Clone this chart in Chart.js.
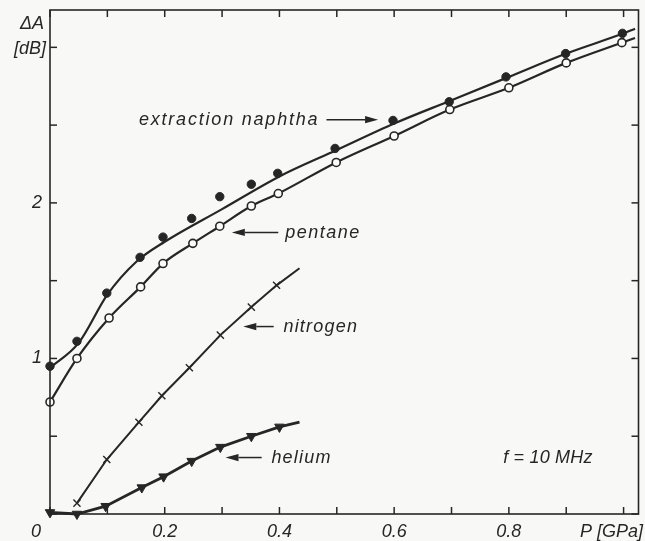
<!DOCTYPE html>
<html>
<head>
<meta charset="utf-8">
<script src="https://cdn.jsdelivr.net/npm/chart.js@4.4.1/dist/chart.umd.min.js"></script>
<style>
  html, body { margin: 0; padding: 0; background: #f8f8f6; }
  canvas { display: block; }
</style>
</head>
<body>
<canvas id="chart" width="645" height="541"></canvas>
<script>
// pressure P [GPa] vs attenuation change ΔA [dB], f = 10 MHz
const naphthaP = [0, 0.047, 0.099, 0.157, 0.197, 0.247, 0.296, 0.351, 0.397, 0.497, 0.598, 0.696, 0.795, 0.899, 0.998];
const naphthaDB = [0.95, 1.11, 1.42, 1.65, 1.78, 1.90, 2.04, 2.12, 2.19, 2.35, 2.53, 2.65, 2.81, 2.96, 3.09];

// fitted curve drawn through the naphtha points
const naphthaFitP = [0, 0.05, 0.1, 0.15, 0.2, 0.3, 0.4, 0.5, 0.6, 0.7, 0.8, 0.9, 1.0, 1.02];
const naphthaFitDB = [0.94, 1.10, 1.41, 1.62, 1.75, 1.96, 2.17, 2.34, 2.51, 2.66, 2.81, 2.96, 3.09, 3.12];

// last entry is the end of the drawn line (no marker)
const pentaneP = [0, 0.047, 0.103, 0.158, 0.197, 0.249, 0.296, 0.351, 0.398, 0.499, 0.6, 0.697, 0.8, 0.9, 0.997, 1.02];
const pentaneDB = [0.72, 1.0, 1.26, 1.46, 1.61, 1.74, 1.85, 1.98, 2.06, 2.26, 2.43, 2.60, 2.74, 2.90, 3.03, 3.06];

const nitrogenP = [0.047, 0.099, 0.155, 0.195, 0.243, 0.297, 0.351, 0.395, 0.435];
const nitrogenDB = [0.07, 0.35, 0.59, 0.76, 0.94, 1.15, 1.33, 1.47, 1.58];

const heliumP = [0, 0.047, 0.097, 0.16, 0.198, 0.247, 0.297, 0.351, 0.40, 0.435];
const heliumDB = [0.01, 0.0, 0.05, 0.17, 0.24, 0.34, 0.43, 0.50, 0.56, 0.59];

const xLabels = [0.2, 0.4, 0.6, 0.8];
const yLabels = [1, 2];

const ink = "#262626";
const labelFont = 'italic 18px "Liberation Sans"';

// annotation positions, in data units
const notes = [
  { text: "extraction naphtha", p: 0.155, db: 2.50, sp: 1.8, arrow: [0.482, 2.535, 0.572, 2.535] },
  { text: "pentane", p: 0.41, db: 1.777, sp: 1.5, arrow: [0.398, 1.81, 0.317, 1.81] },
  { text: "nitrogen", p: 0.407, db: 1.173, sp: 1.2, arrow: [0.39, 1.205, 0.337, 1.205] },
  { text: "helium", p: 0.386, db: 0.331, sp: 1.2, arrow: [0.369, 0.363, 0.306, 0.363] },
  { text: "f = 10 MHz", p: 0.79, db: 0.331, sp: 0.2 }
];

const toPoints = (xs, ys) => xs.map((x, i) => ({ x, y: ys[i] }));
const lastNoMarker = (xs, r) => xs.map((_, i) => (i === xs.length - 1 ? 0 : r));

function drawLine(ctx, x1, y1, x2, y2) {
  ctx.beginPath();
  ctx.moveTo(x1, y1);
  ctx.lineTo(x2, y2);
  ctx.stroke();
}

function drawArrow(ctx, x1, y1, x2, y2) {
  const ang = Math.atan2(y2 - y1, x2 - x1);
  const len = 13, half = 3.6;
  const bx = x2 - Math.cos(ang) * len, by = y2 - Math.sin(ang) * len;
  drawLine(ctx, x1, y1, bx, by);
  ctx.beginPath();
  ctx.moveTo(x2, y2);
  ctx.lineTo(bx + Math.sin(ang) * half, by - Math.cos(ang) * half);
  ctx.lineTo(bx - Math.sin(ang) * half, by + Math.cos(ang) * half);
  ctx.closePath();
  ctx.fill();
}

const framePlugin = {
  id: "frame",
  beforeDatasetsDraw(chart) {
    const { ctx, chartArea: a, scales: { x, y } } = chart;
    ctx.save();
    ctx.strokeStyle = ink;
    ctx.lineWidth = 1.5;
    x.ticks.forEach(t => {
      const px = x.getPixelForValue(t.value);
      drawLine(ctx, px, a.bottom, px, a.bottom - 7);
      drawLine(ctx, px, a.top, px, a.top + 7);
    });
    y.ticks.forEach(t => {
      const py = y.getPixelForValue(t.value);
      drawLine(ctx, a.left, py, a.left + 7, py);
      drawLine(ctx, a.right, py, a.right - 7, py);
    });
    ctx.restore();
  },
  afterDraw(chart) {
    const { ctx, chartArea: a, scales: { x, y } } = chart;
    ctx.save();
    ctx.strokeStyle = ink;
    ctx.fillStyle = ink;
    ctx.lineWidth = 1.6;
    ctx.strokeRect(a.left, a.top, a.right - a.left, a.bottom - a.top);

    ctx.font = labelFont;
    ctx.textBaseline = "alphabetic";
    ctx.textAlign = "center";
    ctx.fillText("0", a.left - 14, 537);
    ctx.textAlign = "right";
    ctx.fillText("P [GPa]", 643, 537);
    ctx.fillText("ΔA", 44, 29);
    ctx.fillText("[dB]", 46, 54);

    ctx.textAlign = "left";
    ctx.lineWidth = 1.5;
    notes.forEach(n => {
      ctx.letterSpacing = `${n.sp}px`;
      ctx.fillText(n.text, x.getPixelForValue(n.p), y.getPixelForValue(n.db));
      if (n.arrow) {
        const [p1, d1, p2, d2] = n.arrow;
        drawArrow(ctx, x.getPixelForValue(p1), y.getPixelForValue(d1),
          x.getPixelForValue(p2), y.getPixelForValue(d2));
      }
    });
    ctx.restore();
  }
};

new Chart(document.getElementById("chart").getContext("2d"), {
  type: "scatter",
  data: {
    datasets: [
      {
        label: "extraction naphtha fit",
        data: toPoints(naphthaFitP, naphthaFitDB),
        showLine: true,
        borderColor: ink,
        borderWidth: 2.2,
        pointRadius: 0,
        cubicInterpolationMode: "monotone"
      },
      {
        label: "extraction naphtha",
        data: toPoints(naphthaP, naphthaDB),
        showLine: false,
        pointStyle: "circle",
        pointRadius: 4.2,
        backgroundColor: ink,
        borderColor: ink,
        borderWidth: 1
      },
      {
        label: "pentane",
        data: toPoints(pentaneP, pentaneDB),
        showLine: true,
        borderColor: ink,
        borderWidth: 2.2,
        cubicInterpolationMode: "monotone",
        pointStyle: "circle",
        pointRadius: lastNoMarker(pentaneP, 4),
        pointBackgroundColor: "#fbfbf9",
        pointBorderColor: ink,
        pointBorderWidth: 1.6
      },
      {
        label: "nitrogen",
        data: toPoints(nitrogenP, nitrogenDB),
        showLine: true,
        borderColor: ink,
        borderWidth: 2,
        tension: 0,
        pointStyle: "crossRot",
        pointRadius: lastNoMarker(nitrogenP, 5),
        pointBorderColor: ink,
        pointBorderWidth: 1.4
      },
      {
        label: "helium",
        data: toPoints(heliumP, heliumDB),
        showLine: true,
        borderColor: ink,
        borderWidth: 2.8,
        tension: 0,
        pointStyle: "triangle",
        pointRotation: 180,
        pointRadius: lastNoMarker(heliumP, 5.5),
        pointBackgroundColor: ink,
        pointBorderColor: ink,
        pointBorderWidth: 1
      }
    ]
  },
  options: {
    responsive: false,
    animation: false,
    clip: false,
    layout: { padding: { left: 0, right: 4, top: 10, bottom: 0 } },
    plugins: {
      legend: { display: false },
      tooltip: { enabled: false }
    },
    scales: {
      x: {
        type: "linear",
        min: 0,
        max: 1.026,
        afterFit: scale => {
          scale.height = 27;
          scale.paddingLeft = 0;
          scale.paddingRight = 0;
        },
        grid: { display: false, drawTicks: false },
        border: { display: false },
        ticks: {
          stepSize: 0.1,
          includeBounds: false,
          autoSkip: false,
          maxRotation: 0,
          padding: 7,
          color: ink,
          font: { family: "Liberation Sans", size: 18, style: "italic" },
          callback: v => {
            const r = Math.round(v * 10) / 10;
            return xLabels.includes(r) ? r.toFixed(1) : "";
          }
        }
      },
      y: {
        type: "linear",
        min: 0,
        max: 3.24,
        afterFit: scale => {
          scale.width = 50;
          scale.paddingTop = 0;
          scale.paddingBottom = 0;
        },
        grid: { display: false, drawTicks: false },
        border: { display: false },
        ticks: {
          stepSize: 0.5,
          includeBounds: false,
          autoSkip: false,
          padding: 8,
          color: ink,
          font: { family: "Liberation Sans", size: 18, style: "italic" },
          callback: v => (yLabels.includes(v) ? String(v) : "")
        }
      }
    }
  },
  plugins: [framePlugin]
});
</script>
</body>
</html>
